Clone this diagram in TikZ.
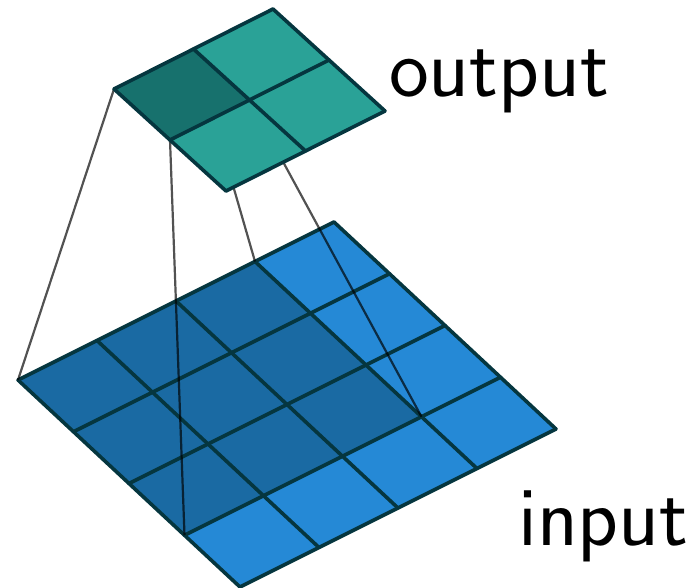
\documentclass[tikz,border=0pt]{standalone}
\usepackage{fontspec}
\setsansfont{Latin Modern Sans}
\usetikzlibrary{calc}
\definecolor{tealcell}{HTML}{2AA297}
\definecolor{tealdark}{HTML}{17716D}
\definecolor{bluecell}{HTML}{2589D6}
\definecolor{bluedark}{HTML}{1A6AA3}
\definecolor{edgecol}{HTML}{05363F}
\tikzset{
  gridline/.style={draw=edgecol,line width=3.6pt,line cap=round,line join=round},
  linkline/.style={draw=black,opacity=.68,line width=2.2pt},
  lbl/.style={font=\sffamily\fontsize{84.5}{84.5}\selectfont,text=black,inner sep=0pt,anchor=base west}
}
\begin{document}
\begin{tikzpicture}[x=1pt,y=-1pt]
\useasboundingbox (0,0) rectangle (695,588);
% input plane
\coordinate (iA) at (18,380);
\foreach \i in {0,...,4}\foreach \j in {0,...,4}{
  \coordinate (i\i\j) at ($(iA)+\i/4*(316,-158)+\j/4*(222,207)$);
}
\fill[bluecell] (i00)--(i40)--(i44)--(i04)--cycle;
\fill[bluedark] (i00)--(i30)--(i33)--(i03)--cycle;
\foreach \k in {0,...,4}{
  \draw[gridline] (i\k0)--(i\k4);
  \draw[gridline] (i0\k)--(i4\k);
}
% output plane
\coordinate (oA) at (114,89);
\foreach \i in {0,1,2}\foreach \j in {0,1,2}{
  \coordinate (o\i\j) at ($(oA)+\i/2*(159,-80)+\j/2*(112,102)$);
}
% links, passing under the output plane
\draw[linkline] (o00)--(i00);
\draw[linkline] (o01)--(i03);
\draw[linkline] (o10)--(i30);
\draw[linkline] (o11)--(i33);
\fill[tealcell] (o00)--(o20)--(o22)--(o02)--cycle;
\fill[tealdark] (o00)--(o10)--(o11)--(o01)--cycle;
\foreach \k in {0,1,2}{
  \draw[gridline] (o\k0)--(o\k2);
  \draw[gridline] (o0\k)--(o2\k);
}
\node[lbl] (outlabel) at (389,97) {output};
\node[lbl] (inlabel) at (518,545) {input};
\end{tikzpicture}
\end{document}
